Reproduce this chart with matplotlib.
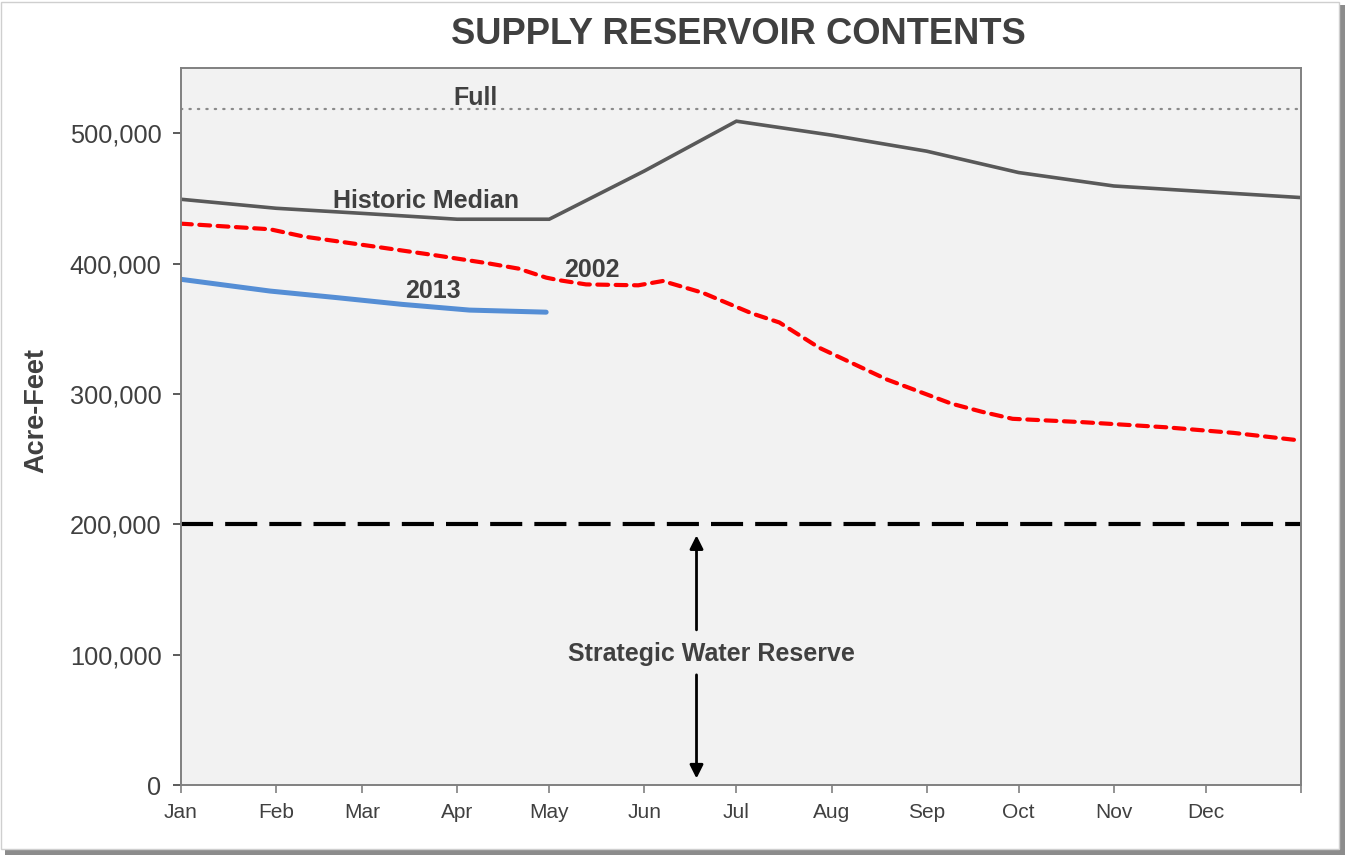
import matplotlib.pyplot as plt
from matplotlib.patches import Rectangle
from matplotlib.ticker import FuncFormatter

plt.rcParams['font.family'] = ['Liberation Sans', 'DejaVu Sans']

# month starts (day of year) and labels
month_days = [0, 31, 59, 90, 120, 151, 181, 212, 243, 273, 304, 334, 365]
month_labels = ['Jan', 'Feb', 'Mar', 'Apr', 'May', 'Jun', 'Jul', 'Aug', 'Sep', 'Oct', 'Nov', 'Dec', '']

# historic median (acre-feet)
median_days = [0, 31, 59, 90, 120, 151, 181, 212, 243, 273, 304, 334, 365]
median_vals = [449300, 442400, 438500, 434000, 434000, 471000, 509200, 498500, 486200,
               469800, 459500, 455100, 450600]

# 2002
y2002_days = [0, 29, 40, 62, 83, 100, 110, 119, 123, 132, 149, 157, 170, 186, 195,
              208, 215, 230, 246, 251, 261, 271, 294, 321, 343, 365]
y2002_vals = [430600, 426300, 420700, 413400, 406300, 400200, 396100, 389200, 387300,
              384000, 383300, 386600, 377600, 361800, 354800, 335400, 327700, 311100,
              297000, 292600, 286300, 280900, 278300, 274400, 270100, 264200]

# 2013
y2013_days = [0, 29, 51, 72, 94, 119]
y2013_vals = [387900, 378900, 373800, 368700, 364300, 362700]

full_level = 518400
reserve_level = 200000

txt_color = '#404040'

fig = plt.figure(figsize=(13.45, 8.55), dpi=100)
fig.patch.set_facecolor('white')

# page frame with shadow
fig.patches.append(Rectangle((5 / 1345, 0), 1340 / 1345, 850 / 855, transform=fig.transFigure,
                             facecolor='#8c8c8c', edgecolor='none', zorder=-2))
fig.patches.append(Rectangle((1 / 1345, 6 / 855), 1338 / 1345, 847 / 855, transform=fig.transFigure,
                             facecolor='white', edgecolor='#cfcfcf', lw=1, zorder=-1))

ax = fig.add_axes([181 / 1345, 1 - 785 / 855, 1120 / 1345, 717 / 855])
ax.set_facecolor('#f2f2f2')

# full and strategic reserve lines
ax.axhline(full_level, color='#8a8a8a', lw=1.6, dashes=(0.6, 3.2), dash_capstyle='round')
ax.axhline(reserve_level, color='black', lw=3, dashes=(7.7, 2.9))

ax.plot(median_days, median_vals, color='#595959', lw=2.6, solid_joinstyle='miter')
ax.plot(y2002_days, y2002_vals, color='#ff0000', lw=3, dashes=(2.6, 1.8), dash_capstyle='round')
ax.plot(y2013_days, y2013_vals, color='#558ed5', lw=3.6, solid_capstyle='round')

# labels on the chart
lab = dict(ha='center', va='center', fontsize=18, fontweight='bold', color=txt_color)
ax.text(96, 527000, 'Full', **lab)
ax.text(80, 447800, 'Historic Median', **lab)
ax.text(82, 379000, '2013', **lab)
ax.text(134, 395000, '2002', **lab)
ax.text(173, 100500, 'Strategic Water Reserve', **lab)

# double arrow for the reserve
arrow = dict(arrowstyle='-|>', color='black', lw=2, mutation_scale=20, shrinkA=0, shrinkB=0)
ax.annotate('', xy=(168, 191500), xytext=(168, 119000), arrowprops=arrow)
ax.annotate('', xy=(168, 5000), xytext=(168, 84500), arrowprops=arrow)

ax.set_xlim(0, 365)
ax.set_ylim(0, 550000)
ax.set_xticks(month_days)
ax.set_xticklabels(month_labels)
ax.set_yticks(range(0, 500001, 100000))
ax.yaxis.set_major_formatter(FuncFormatter(lambda v, p: '{:,.0f}'.format(v)))

for s in ax.spines.values():
    s.set_color('#808080')
    s.set_linewidth(1.4)
ax.tick_params(axis='x', direction='out', length=6, width=1.2, color='#808080',
               labelsize=15, labelcolor=txt_color, pad=7)
ax.tick_params(axis='y', direction='out', length=6, width=1.2, color='#404040',
               labelsize=18.3, labelcolor=txt_color, pad=8)

# title and axis label
fig.text(738 / 1345, 1 - 34 / 855, 'SUPPLY RESERVOIR CONTENTS', ha='center', va='center',
         fontsize=26.2, fontweight='bold', color=txt_color)
fig.text(36 / 1345, 1 - 410 / 855, 'Acre-Feet', ha='center', va='center', rotation=90,
         fontsize=19.5, fontweight='bold', color=txt_color)

fig.savefig('out.png', dpi=100)
